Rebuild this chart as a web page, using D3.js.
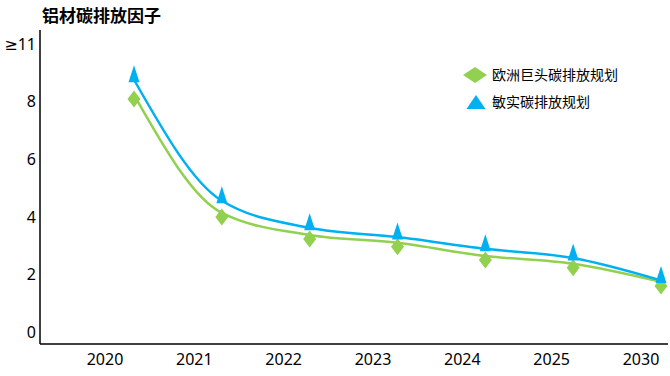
<!DOCTYPE html>
<html>
<head>
<meta charset="utf-8">
<script src="https://cdn.jsdelivr.net/npm/d3@7"></script>
<style>
  body { margin: 0; background: #fff; }
  text { font-family: "Noto Sans", "DejaVu Sans", "Noto Sans CJK SC", sans-serif; }
</style>
</head>
<body>
<svg width="670" height="376"></svg>
<script>
// chart data
var years = ["2020", "2021", "2022", "2023", "2024", "2025", "2030"];
var euroPlan = [8.24, 4.14, 3.37, 3.10, 2.64, 2.37, 1.74];   // 欧洲巨头碳排放规划
var minthPlan = [8.77, 4.56, 3.62, 3.30, 2.89, 2.57, 1.79];  // 敏实碳排放规划
var yTicks = [0, 2, 4, 6, 8, 10];
var yTickLabels = ["0", "2", "4", "6", "8", "≥11"];
var seriesNames = ["欧洲巨头碳排放规划", "敏实碳排放规划"];
var chartTitle = "铝材碳排放因子";

var green = "#92D050", blue = "#00B0F0";

// note: "top" is a reserved window global, so use plot* names
var svg = d3.select("svg"),
    plotLeft = 40, plotRight = 668, plotTop = 30, plotBottom = 344;

var y = d3.scaleLinear().domain([-0.42, 10.5]).range([plotBottom, plotTop]);
// labels and markers are not aligned in the original
var xLabel = d3.scalePoint().domain(years).range([105, 641]);
var xMark = d3.scalePoint().domain(years).range([134, 661]);

// axes lines
svg.append("line")
    .attr("x1", plotLeft).attr("x2", plotLeft)
    .attr("y1", plotTop).attr("y2", plotBottom)
    .attr("stroke", "#000").attr("stroke-width", 1.5);
svg.append("line")
    .attr("x1", plotLeft).attr("x2", plotRight)
    .attr("y1", plotBottom).attr("y2", plotBottom)
    .attr("stroke", "#000").attr("stroke-width", 1.5);

// y tick labels
svg.selectAll(".ytick")
    .data(yTicks)
    .enter().append("text")
    .attr("class", "ytick")
    .attr("x", 36)
    .attr("y", function(d) { return y(d); })
    .attr("dy", "0.35em")
    .attr("text-anchor", "end")
    .style("font-size", "16px")
    .attr("fill", "#000")
    .text(function(d, i) { return yTickLabels[i]; });

// x tick labels
svg.selectAll(".xtick")
    .data(years)
    .enter().append("text")
    .attr("class", "xtick")
    .attr("x", function(d) { return xLabel(d); })
    .attr("y", 359)
    .attr("dy", "0.35em")
    .attr("text-anchor", "middle")
    .style("font-size", "16px")
    .attr("fill", "#000")
    .text(function(d) { return d; });

function lineFor(vals) {
  return d3.line()
    .x(function(d, i) { return xMark(years[i]); })
    .y(function(d) { return y(d); })
    .curve(d3.curveMonotoneX)(vals);
}

svg.append("path")
    .attr("d", lineFor(euroPlan))
    .attr("fill", "none")
    .attr("stroke", green)
    .attr("stroke-width", 2.5);
svg.append("path")
    .attr("d", lineFor(minthPlan))
    .attr("fill", "none")
    .attr("stroke", blue)
    .attr("stroke-width", 2.5);

function diamond(cx, cy, w, h) {
  return "M" + cx + "," + (cy - h / 2) + "L" + (cx + w / 2) + "," + cy +
         "L" + cx + "," + (cy + h / 2) + "L" + (cx - w / 2) + "," + cy + "Z";
}
function triangle(cx, cy, w, h) {
  return "M" + cx + "," + (cy - h / 2) + "L" + (cx + w / 2) + "," + (cy + h / 2) +
         "L" + (cx - w / 2) + "," + (cy + h / 2) + "Z";
}

// markers
svg.selectAll(".dmark")
    .data(euroPlan)
    .enter().append("path")
    .attr("class", "dmark")
    .attr("fill", green)
    .attr("d", function(d, i) { return diamond(xMark(years[i]), y(d) + 4, 13, 17); });
svg.selectAll(".tmark")
    .data(minthPlan)
    .enter().append("path")
    .attr("class", "tmark")
    .attr("fill", blue)
    .attr("d", function(d, i) { return triangle(xMark(years[i]), y(d) - 6, 11, 17); });

// title
svg.append("text")
    .attr("x", 42)
    .attr("y", 16)
    .attr("dy", "0.35em")
    .style("font-size", "17px")
    .style("font-weight", "bold")
    .style("font-family", "'Noto Sans CJK SC', sans-serif")
    .attr("fill", "#000")
    .text(chartTitle);

// legend
var legend = svg.append("g").attr("transform", "translate(475,75)");
legend.append("path").attr("fill", green).attr("d", diamond(0, 0, 24, 16));
legend.append("path").attr("fill", blue).attr("d", triangle(1, 27, 19, 14));
legend.selectAll("text")
    .data(seriesNames)
    .enter().append("text")
    .attr("x", 17)
    .attr("y", function(d, i) { return i * 27; })
    .attr("dy", "0.35em")
    .style("font-size", "14px")
    .style("font-family", "'Noto Sans CJK SC', sans-serif")
    .attr("fill", "#000")
    .text(function(d) { return d; });
</script>
</body>
</html>
